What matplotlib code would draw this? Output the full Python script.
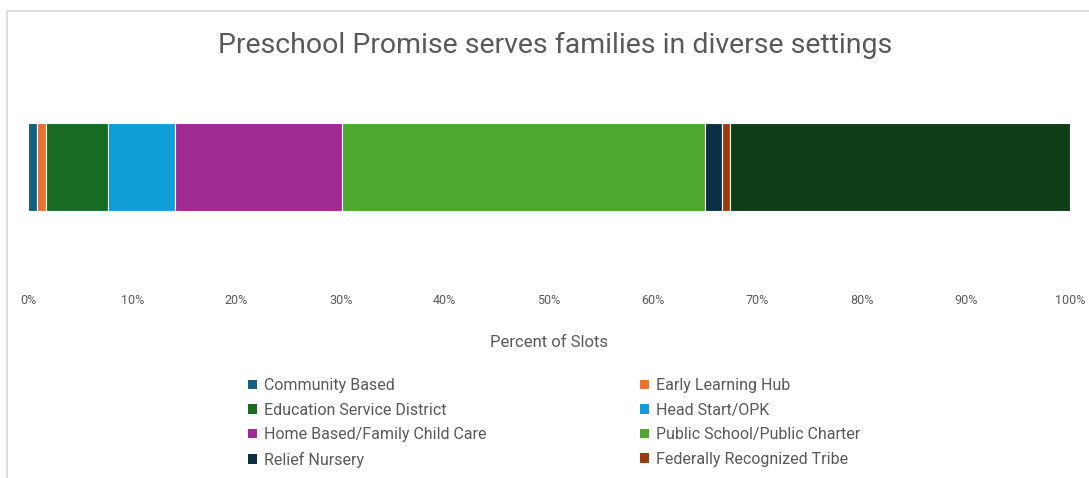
import matplotlib.pyplot as plt
from matplotlib.patches import Rectangle, Patch
from matplotlib.ticker import MultipleLocator, PercentFormatter

# setting types and their share of slots (percent)
settings = ['Community Based', 'Early Learning Hub', 'Education Service District',
            'Head Start/OPK', 'Home Based/Family Child Care',
            'Public School/Public Charter', 'Relief Nursery',
            'Federally Recognized Tribe', 'Other']
shares = [0.9, 0.8, 6.0, 6.4, 16.0, 34.9, 1.6, 0.8, 32.6]
colors = ['#156082', '#E97132', '#196B24', '#0F9ED5', '#A02B93',
          '#4EA72E', '#0B3046', '#9C3D0E', '#0F3D17']
in_legend = 8  # only the first eight are shown in the legend

W, H = 1089, 478
fig = plt.figure(figsize=(W / 100, H / 100), dpi=100)
plt.rcParams['font.family'] = ['Roboto', 'DejaVu Sans']

# chart frame (only top and left edges visible)
fig.patches.append(Rectangle((7 / W, -0.1), 1.2, 1 - 11 / H + 0.1,
                             transform=fig.transFigure, fill=False,
                             edgecolor='#d9d9d9', linewidth=1.2))

ax = fig.add_axes([28 / W, 1 - 211 / H, (1070 - 28) / W, 88 / H])
left = 0
for name, val, col in zip(settings, shares, colors):
    ax.barh(0, val, left=left, height=1, color=col, edgecolor='white',
            linewidth=0.8, label=name)
    left += val

ax.set_xlim(0, 100)
ax.set_ylim(-0.5, 0.5)
ax.xaxis.set_major_locator(MultipleLocator(10))
ax.xaxis.set_major_formatter(PercentFormatter(decimals=0))
ax.tick_params(axis='x', length=0, pad=60, labelsize=9, labelcolor='#595959')
ax.set_yticks([])
for s in ax.spines.values():
    s.set_visible(False)
ax.set_xlabel('Percent of Slots', fontsize=12, color='#595959', labelpad=20)

fig.text(555 / W, 1 - 45 / H, 'Preschool Promise serves families in diverse settings',
         ha='center', va='center', fontsize=20.5, color='#595959')

# legend, row-major order in two columns
handles = [Patch(facecolor=c, label=n) for n, c in zip(settings[:in_legend], colors[:in_legend])]
order = [0, 2, 4, 6, 1, 3, 5, 7]
leg = fig.legend([handles[i] for i in order], [settings[i] for i in order],
                 ncol=2, loc='upper left', bbox_to_anchor=(248 / W, 1 - 378 / H),
                 frameon=False, fontsize=11.5, handlelength=0.55, handleheight=0.55,
                 handletextpad=0.45, columnspacing=9.6, labelspacing=0.6,
                 labelcolor='#595959', borderaxespad=0, borderpad=0)

fig.savefig('out.png', dpi=100)
